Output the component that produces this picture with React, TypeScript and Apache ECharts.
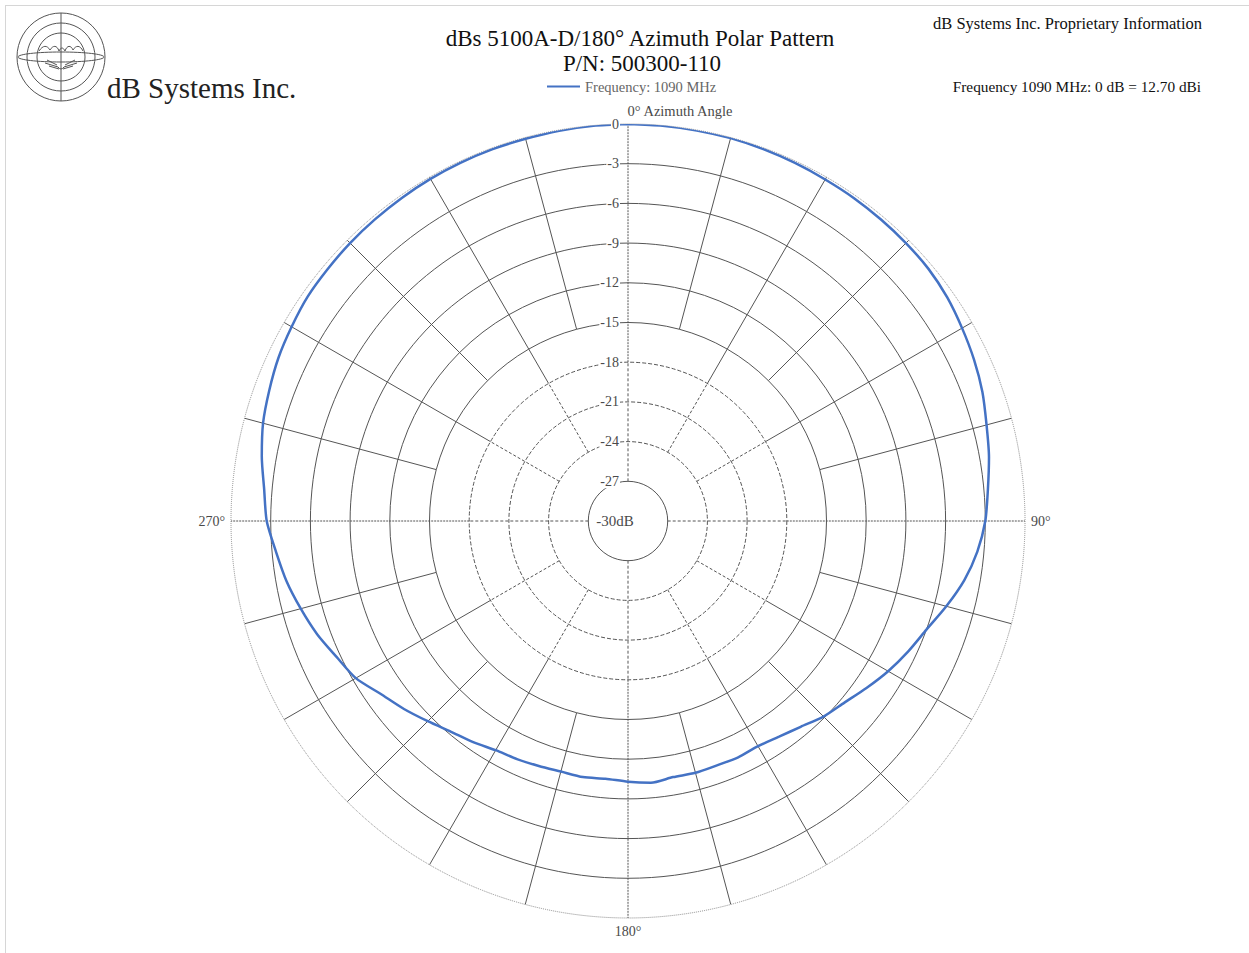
import React, { useEffect, useRef } from "react";
import * as echarts from "echarts";

// ---- data ----
const seriesName = "Frequency: 1090 MHz";
const azimuthDeg = [
  0, 5, 10, 15, 20, 25, 30, 35, 40, 45, 50, 55, 60, 65, 70, 75, 80, 85, 90,
  95, 100, 105, 110, 115, 120, 125, 130, 135, 140, 145, 150, 155, 160, 165, 170, 175, 180,
  185, 190, 195, 200, 205, 210, 215, 220, 225, 230, 235, 240, 245, 250, 255, 260, 265, 270,
  275, 280, 285, 290, 295, 300, 305, 310, 315, 320, 325, 330, 335, 340, 345, 350, 355, 360,
];
const gainDb = [
  0, -0.02, -0.03, -0.05, -0.1, -0.15, -0.2, -0.22, -0.26, -0.3, -0.36, -0.55, -0.85, -1.15, -1.5, -1.95, -2.3, -2.7, -3.0,
  -3.5, -4.2, -5.1, -6.0, -6.65, -7.3, -8.0, -8.65, -9.1, -9.7, -10.1, -10.35, -10.3, -10.35, -10.3, -10.35, -10.15, -10.3,
  -10.45, -10.35, -10.4, -10.3, -10.15, -10.0, -9.6, -9.2, -8.6, -7.9, -7.2, -6.25, -5.7, -5.0, -4.4, -3.8, -3.3, -2.7,
  -2.4, -1.9, -1.45, -1.15, -0.85, -0.65, -0.45, -0.38, -0.3, -0.25, -0.2, -0.15, -0.12, -0.1, -0.1, -0.05, -0.02, 0,
];
const angleLabels = ["0° Azimuth Angle", "90°", "180°", "270°"];
const centerLabel = "-30dB";
const dbMin = -30;
const dbMax = 0;
const dbStep = 3;
const solidRings = [-27, -15, -12, -9, -6, -3];
const dashedRings = [-24, -21, -18];
const spokeAngles = [0, 15, 30, 45, 60, 75, 90, 105, 120, 135, 150, 165, 180, 195, 210, 225, 240, 255, 270, 285, 300, 315, 330, 345];
const spokeInnerDb = [-27, -15, -24, -15, -24, -15, -27, -15, -24, -15, -24, -15, -27, -15, -24, -15, -24, -15, -27, -15, -24, -15, -24, -15];

const FONT = "'Liberation Serif', 'Times New Roman', serif";
const GRID = "#555555";
const LABEL = "#4a4a4a";

export default function App() {
  const ref = useRef<HTMLDivElement>(null);

  useEffect(() => {
    if (!ref.current) return;
    const chart = echarts.init(ref.current, undefined, { renderer: "svg" });

    const birdPath =
      "M -22 -6 C -18 -12 -14 -12 -11 -7 C -8 -12 -4 -12 -2 -6 C 0 -10 2 -10 4 -6 C 6 -12 10 -12 12 -7 C 15 -12 19 -12 22 -6 " +
      "M -14 3 L -4 8 M -16 6 L -3 10 M -12 9 L -2 12 M 14 3 L 4 8 M 16 6 L 3 10 M 12 9 L 2 12 M -3 10 Q 0 14 3 10";
    echarts.graphic.registerShape("dbsBird", echarts.graphic.extendPath(birdPath, {}) as any);

    const ticks: number[] = [];
    for (let v = dbMin; v <= dbMax; v += dbStep) ticks.push(v);
    const solidColors = ticks.map((t) => (solidRings.includes(t) ? GRID : "rgba(0,0,0,0)"));
    const dashedColors = ticks.map((t) => (dashedRings.includes(t) ? GRID : "rgba(0,0,0,0)"));

    const spokeSeries: any[] = [];
    spokeAngles.forEach((a, i) => {
      const inner = spokeInnerDb[i];
      const main = a % 90 === 0;
      spokeSeries.push({
        type: "line",
        name: "spoke" + a,
        coordinateSystem: "polar",
        polarIndex: 0,
        silent: true,
        symbol: "none",
        z: 1,
        lineStyle: { color: GRID, width: 1, type: main ? [2, 1] : "solid" },
        data: [
          [Math.max(inner, -18), a],
          [dbMax, a],
        ],
      });
      if (inner < -18) {
        spokeSeries.push({
          type: "line",
          name: "spokeIn" + a,
          coordinateSystem: "polar",
          polarIndex: 0,
          silent: true,
          symbol: "none",
          z: 1,
          lineStyle: { color: GRID, width: 1, type: [3, 2] },
          data: [
            [inner, a],
            [-18, a],
          ],
        });
      }
    });

    const hiddenAngle = (idx: number) => ({
      polarIndex: idx,
      type: "value",
      min: 0,
      max: 360,
      startAngle: 90,
      clockwise: true,
      axisLine: { show: false },
      axisTick: { show: false },
      splitLine: { show: false },
      axisLabel: { show: false },
    });

    const option: any = {
      animation: false,
      backgroundColor: "#ffffff",
      legend: {
        data: [seriesName],
        left: 542,
        top: 74,
        icon: "rect",
        itemWidth: 33,
        itemHeight: 2,
        itemGap: 4,
        textStyle: { color: "#666", fontSize: 14.5, fontFamily: FONT },
      },
      polar: [
        { center: [628, 521], radius: 397 },
        { center: [628, 521], radius: 397 },
        { center: [628, 521], radius: 397 },
      ],
      angleAxis: [
        {
          polarIndex: 0,
          type: "value",
          min: 0,
          max: 360,
          interval: 90,
          startAngle: 90,
          clockwise: true,
          axisLine: { show: true, lineStyle: { color: "#8a8a8a", width: 1, type: [1, 1] } },
          axisTick: { show: false },
          splitLine: { show: false },
          axisLabel: {
            show: true,
            margin: 6,
            color: LABEL,
            fontSize: 14,
            fontFamily: FONT,
            formatter: (v: number) => {
              if (v === 0) return "{a|" + angleLabels[0] + "}";
              if (v === 90) return angleLabels[1];
              if (v === 180) return angleLabels[2];
              if (v === 270) return angleLabels[3];
              return "";
            },
            rich: {
              a: { padding: [0, 0, 0, 104], color: LABEL, fontSize: 14.5, fontFamily: FONT },
            },
          },
        },
        hiddenAngle(1),
        hiddenAngle(2),
      ],
      radiusAxis: [
        {
          polarIndex: 0,
          type: "value",
          min: dbMin,
          max: dbMax,
          interval: dbStep,
          z: 0,
          axisLine: { show: false },
          axisTick: { show: false },
          axisLabel: { show: false },
          splitLine: { show: true, lineStyle: { color: solidColors, width: 1 } },
        },
        {
          polarIndex: 1,
          type: "value",
          min: dbMin,
          max: dbMax,
          interval: dbStep,
          z: 5,
          axisLine: { show: false },
          axisTick: { show: false },
          splitLine: { show: true, lineStyle: { color: dashedColors, width: 1, type: [4, 2] } },
          axisLabel: {
            show: true,
            margin: 8,
            color: LABEL,
            fontSize: 14,
            fontFamily: FONT,
            backgroundColor: "#fff",
            padding: [0, 1],
            formatter: (v: number) => (v === dbMin ? "" : String(v)),
          },
        },
        {
          polarIndex: 2,
          type: "value",
          min: dbMin,
          max: dbMax,
          interval: dbStep,
          z: 5,
          axisLine: { show: false },
          axisTick: { show: false },
          splitLine: { show: false },
          axisLabel: {
            show: true,
            margin: 13,
            align: "center",
            color: LABEL,
            fontSize: 15,
            fontFamily: FONT,
            formatter: (v: number) => (v === dbMin ? centerLabel : ""),
          },
        },
      ],
      series: [
        ...spokeSeries,
        {
          type: "line",
          name: seriesName,
          coordinateSystem: "polar",
          polarIndex: 0,
          symbol: "none",
          smooth: 0.25,
          z: 3,
          itemStyle: { color: "#4472C4" },
          lineStyle: { color: "#4472C4", width: 2.5 },
          data: azimuthDeg.map((a, i) => [gainDb[i], a]),
        },
      ],
      graphic: [
        { type: "line", shape: { x1: 5, y1: 5.5, x2: 1249, y2: 5.5 }, style: { stroke: "#d6d6d6", lineWidth: 1 }, silent: true },
        { type: "line", shape: { x1: 5.5, y1: 5, x2: 5.5, y2: 953 }, style: { stroke: "#d6d6d6", lineWidth: 1 }, silent: true },
        {
          type: "group",
          x: 61,
          y: 57,
          silent: true,
          children: [
            { type: "circle", shape: { cx: 0, cy: 0, r: 44 }, style: { fill: "none", stroke: "#555", lineWidth: 1 } },
            { type: "circle", shape: { cx: 0, cy: 0, r: 34 }, style: { fill: "none", stroke: "#555", lineWidth: 1 } },
            { type: "circle", shape: { cx: 0, cy: 0, r: 24 }, style: { fill: "none", stroke: "#555", lineWidth: 1 } },
            { type: "line", shape: { x1: 0, y1: -44, x2: 0, y2: 44 }, style: { stroke: "#555", lineWidth: 1 } },
            { type: "ellipse", shape: { cx: 0, cy: 0, rx: 43, ry: 5 }, style: { fill: "none", stroke: "#555", lineWidth: 1 } },
            { type: "dbsBird", x: 0, y: 0, style: { fill: "none", stroke: "#555", lineWidth: 1 } },
          ],
        },
        {
          type: "text",
          x: 107,
          y: 88,
          silent: true,
          style: { text: "dB Systems Inc.", fill: "#222", font: "29px " + FONT, textAlign: "left", textVerticalAlign: "middle" },
        },
        {
          type: "text",
          x: 640,
          y: 38,
          silent: true,
          style: { text: "dBs 5100A-D/180° Azimuth Polar Pattern", fill: "#111", font: "23px " + FONT, textAlign: "center", textVerticalAlign: "middle" },
        },
        {
          type: "text",
          x: 642,
          y: 63,
          silent: true,
          style: { text: "P/N: 500300-110", fill: "#111", font: "23px " + FONT, textAlign: "center", textVerticalAlign: "middle" },
        },
        {
          type: "text",
          x: 1202,
          y: 23,
          silent: true,
          style: { text: "dB Systems Inc. Proprietary Information", fill: "#111", font: "16.5px " + FONT, textAlign: "right", textVerticalAlign: "middle" },
        },
        {
          type: "text",
          x: 1201,
          y: 86,
          silent: true,
          style: { text: "Frequency 1090 MHz: 0 dB = 12.70 dBi", fill: "#111", font: "15.3px " + FONT, textAlign: "right", textVerticalAlign: "middle" },
        },
      ],
    };

    chart.setOption(option);
    return () => chart.dispose();
  }, []);

  return <div ref={ref} style={{ position: "absolute", left: 0, top: 0, width: 1249, height: 953 }} />;
}
